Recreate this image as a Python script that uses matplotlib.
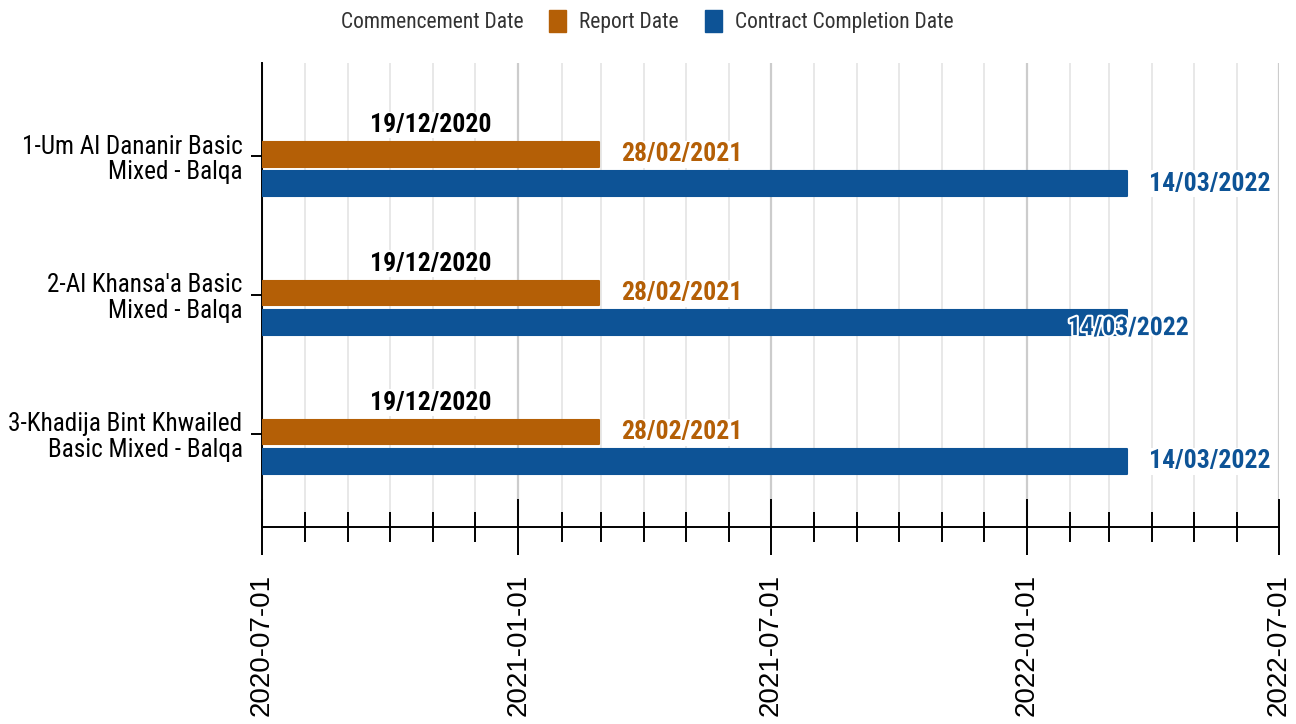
import matplotlib
matplotlib.use('Agg')
import matplotlib.pyplot as plt
import matplotlib.dates as mdates
import matplotlib.patheffects as pe
from matplotlib.patches import Patch
from datetime import date

schools = ['1-Um Al Dananir Basic\nMixed - Balqa',
           "2-Al Khansa'a Basic\nMixed - Balqa",
           '3-Khadija Bint Khwailed\nBasic Mixed - Balqa']
commencement = [date(2020, 12, 19)] * 3
report = [date(2021, 2, 28)] * 3
completion = [date(2022, 3, 14)] * 3
series_names = ['Commencement Date', 'Report Date', 'Contract Completion Date']

x_start = date(2020, 7, 1)
x_end = date(2022, 7, 1)

orange = '#b45f06'
blue = '#0d5396'
narrow = ['Roboto Condensed', 'DejaVu Sans']

fig = plt.figure(figsize=(12.96, 7.24), dpi=100)
ax = fig.add_axes([262/1296, 1-527/724, (1279-262)/1296, (527-63)/724])

x0 = mdates.date2num(x_start)
h = 0.175
offs = [-0.225, -0.012, 0.198]
lab_kw = dict(textcoords='offset points', va='center', fontsize=18.5,
              fontweight='bold', family=narrow)
box = dict(boxstyle='square,pad=0.05', fc='white', ec='none')

for i, name in enumerate(schools):
    # commencement bar is transparent, only its label shows
    c = mdates.date2num(commencement[i])
    r = mdates.date2num(report[i])
    e = mdates.date2num(completion[i])
    ax.barh(i + offs[1], r - x0, left=x0, height=h, color=orange,
            edgecolor=orange, linewidth=1.5, joinstyle='round', zorder=3)
    ax.barh(i + offs[2], e - x0, left=x0, height=h, color=blue,
            edgecolor=blue, linewidth=1.5, joinstyle='round', zorder=3)

    ax.annotate(commencement[i].strftime('%d/%m/%Y'), (c, i + offs[0]),
                xytext=(-6, 0), ha='right', color='black', zorder=2.5, bbox=box, **lab_kw)
    ax.annotate(report[i].strftime('%d/%m/%Y'), (r, i + offs[1]),
                xytext=(16, 0), ha='left', color=orange, zorder=2.5, bbox=box, **lab_kw)
    if i == 1:
        ax.annotate(completion[i].strftime('%d/%m/%Y'), (e, i + offs[2]),
                    xytext=(1, -4), ha='center', color=blue, zorder=5,
                    path_effects=[pe.withStroke(linewidth=3, foreground='white')], **lab_kw)
    else:
        ax.annotate(completion[i].strftime('%d/%m/%Y'), (e, i + offs[2]),
                    xytext=(16, 0), ha='left', color=blue, zorder=2.5, bbox=box, **lab_kw)

ax.set_xlim(x0, mdates.date2num(x_end))
ax.set_ylim(len(schools) - 1 + 0.67, -0.67)

ax.xaxis.set_major_locator(mdates.MonthLocator(bymonth=(1, 7)))
ax.xaxis.set_minor_locator(mdates.MonthLocator())
ax.xaxis.set_major_formatter(mdates.DateFormatter('%Y-%m-%d'))
ax.grid(axis='x', which='major', color='#cccccc', linewidth=1.6, zorder=0)
ax.grid(axis='x', which='minor', color='#e6e6e6', linewidth=1.3, zorder=0)
ax.set_axisbelow(True)

ax.tick_params(axis='x', which='major', direction='inout', length=40, width=1.4,
               pad=14, labelsize=20, labelrotation=90, labelfontfamily='Liberation Sans')
ax.tick_params(axis='x', which='minor', direction='inout', length=21, width=1.4)

ax.set_yticks(range(len(schools)))
ax.set_yticklabels(schools, family=narrow, fontsize=18.2, linespacing=1.1)
ax.tick_params(axis='y', direction='inout', length=16, width=1.4, pad=6)

for s in ['top', 'right']:
    ax.spines[s].set_visible(False)
for s in ['left', 'bottom']:
    ax.spines[s].set_linewidth(1.4)

handles = [Patch(facecolor='white', edgecolor='white'),
           Patch(facecolor=orange, edgecolor=orange, joinstyle='round'),
           Patch(facecolor=blue, edgecolor=blue, joinstyle='round')]
fig.legend(handles, series_names, loc='upper center', bbox_to_anchor=(632/1296, 1.013),
           ncol=3, frameon=False, prop={'family': narrow, 'size': 15.5},
           labelcolor='#333333', handlelength=0.8, handleheight=1.2,
           handletextpad=0.6, columnspacing=1.2)

fig.savefig('out.png', dpi=100)
